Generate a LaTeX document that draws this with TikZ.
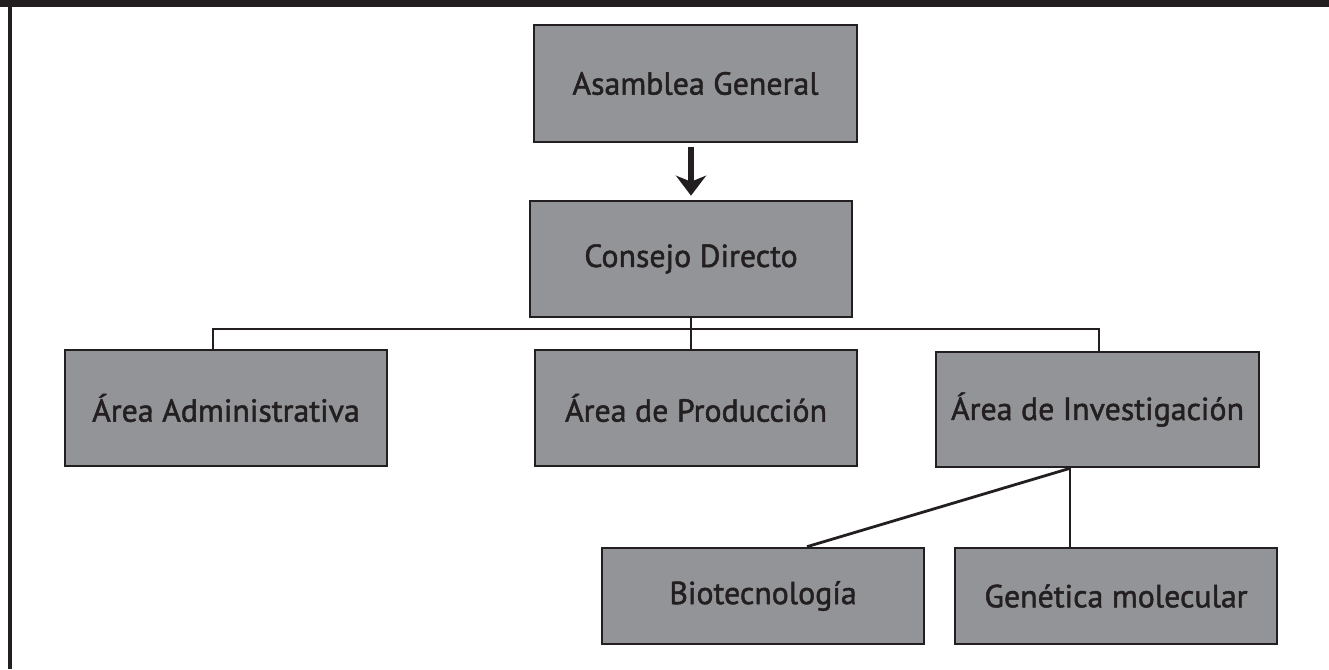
\documentclass[tikz,border=0pt]{standalone}
\usepackage{fontspec}
\setmainfont[FakeBold=1.5]{PT Sans}
\usetikzlibrary{arrows.meta}
\definecolor{boxgray}{HTML}{939498}
\definecolor{ink}{HTML}{231F20}
\tikzset{
  orgbox/.style={draw=ink, line width=2.6bp, fill=boxgray, text=ink,
    minimum width=322bp, inner sep=0pt, font=\fontsize{32}{36}\selectfont},
  link/.style={draw=ink, line width=2.8bp},
}
\begin{document}
\begin{tikzpicture}[x=1bp,y=-1bp]
\useasboundingbox (0,0) rectangle (1329,669);
\fill[ink] (0,0) rectangle (1329,7);
\fill[ink] (8,7) rectangle (12,669);
\node[orgbox, minimum width=323bp, minimum height=117bp] (ag) at (695.5,83.5) {Asamblea General};
\node[orgbox, minimum height=116bp] (cd) at (691,259) {Consejo Directo};
\node[orgbox, minimum height=116bp] (aa) at (226,408) {Área Administrativa};
\node[orgbox, minimum height=116bp] (ap) at (696,408) {Área de Producción};
\node[orgbox, minimum width=323bp, minimum height=115bp] (ai) at (1097.5,409.5) {Área de Investigación};
\node[orgbox, minimum height=96bp] (bt) at (763,596) {Biotecnología};
\node[orgbox, minimum height=96bp] (gm) at (1116,596) {Genética molecular};
\coordinate (j1) at (213,329);
\coordinate (j2) at (691,329);
\coordinate (j3) at (1099,329);
\coordinate (k) at ([xshift=-27.5bp]ai.south);
\coordinate (bttop) at ([xshift=44bp]bt.north);
\draw[ink, line width=6bp, shorten <=4bp, shorten >=4bp, -{Stealth[length=20bp,width=30bp,inset=6bp]}] (ag.south -| cd.south) -- (cd.north);
\draw[link] (j1 |- aa.north) -- (j1) -- (j3) -- (j3 |- ai.north);
\draw[link] (cd.south) -- (j2 |- ap.north);
\draw[link] (k) -- (k |- gm.north);
\draw[link] (k) -- (bttop);
\end{tikzpicture}
\end{document}
